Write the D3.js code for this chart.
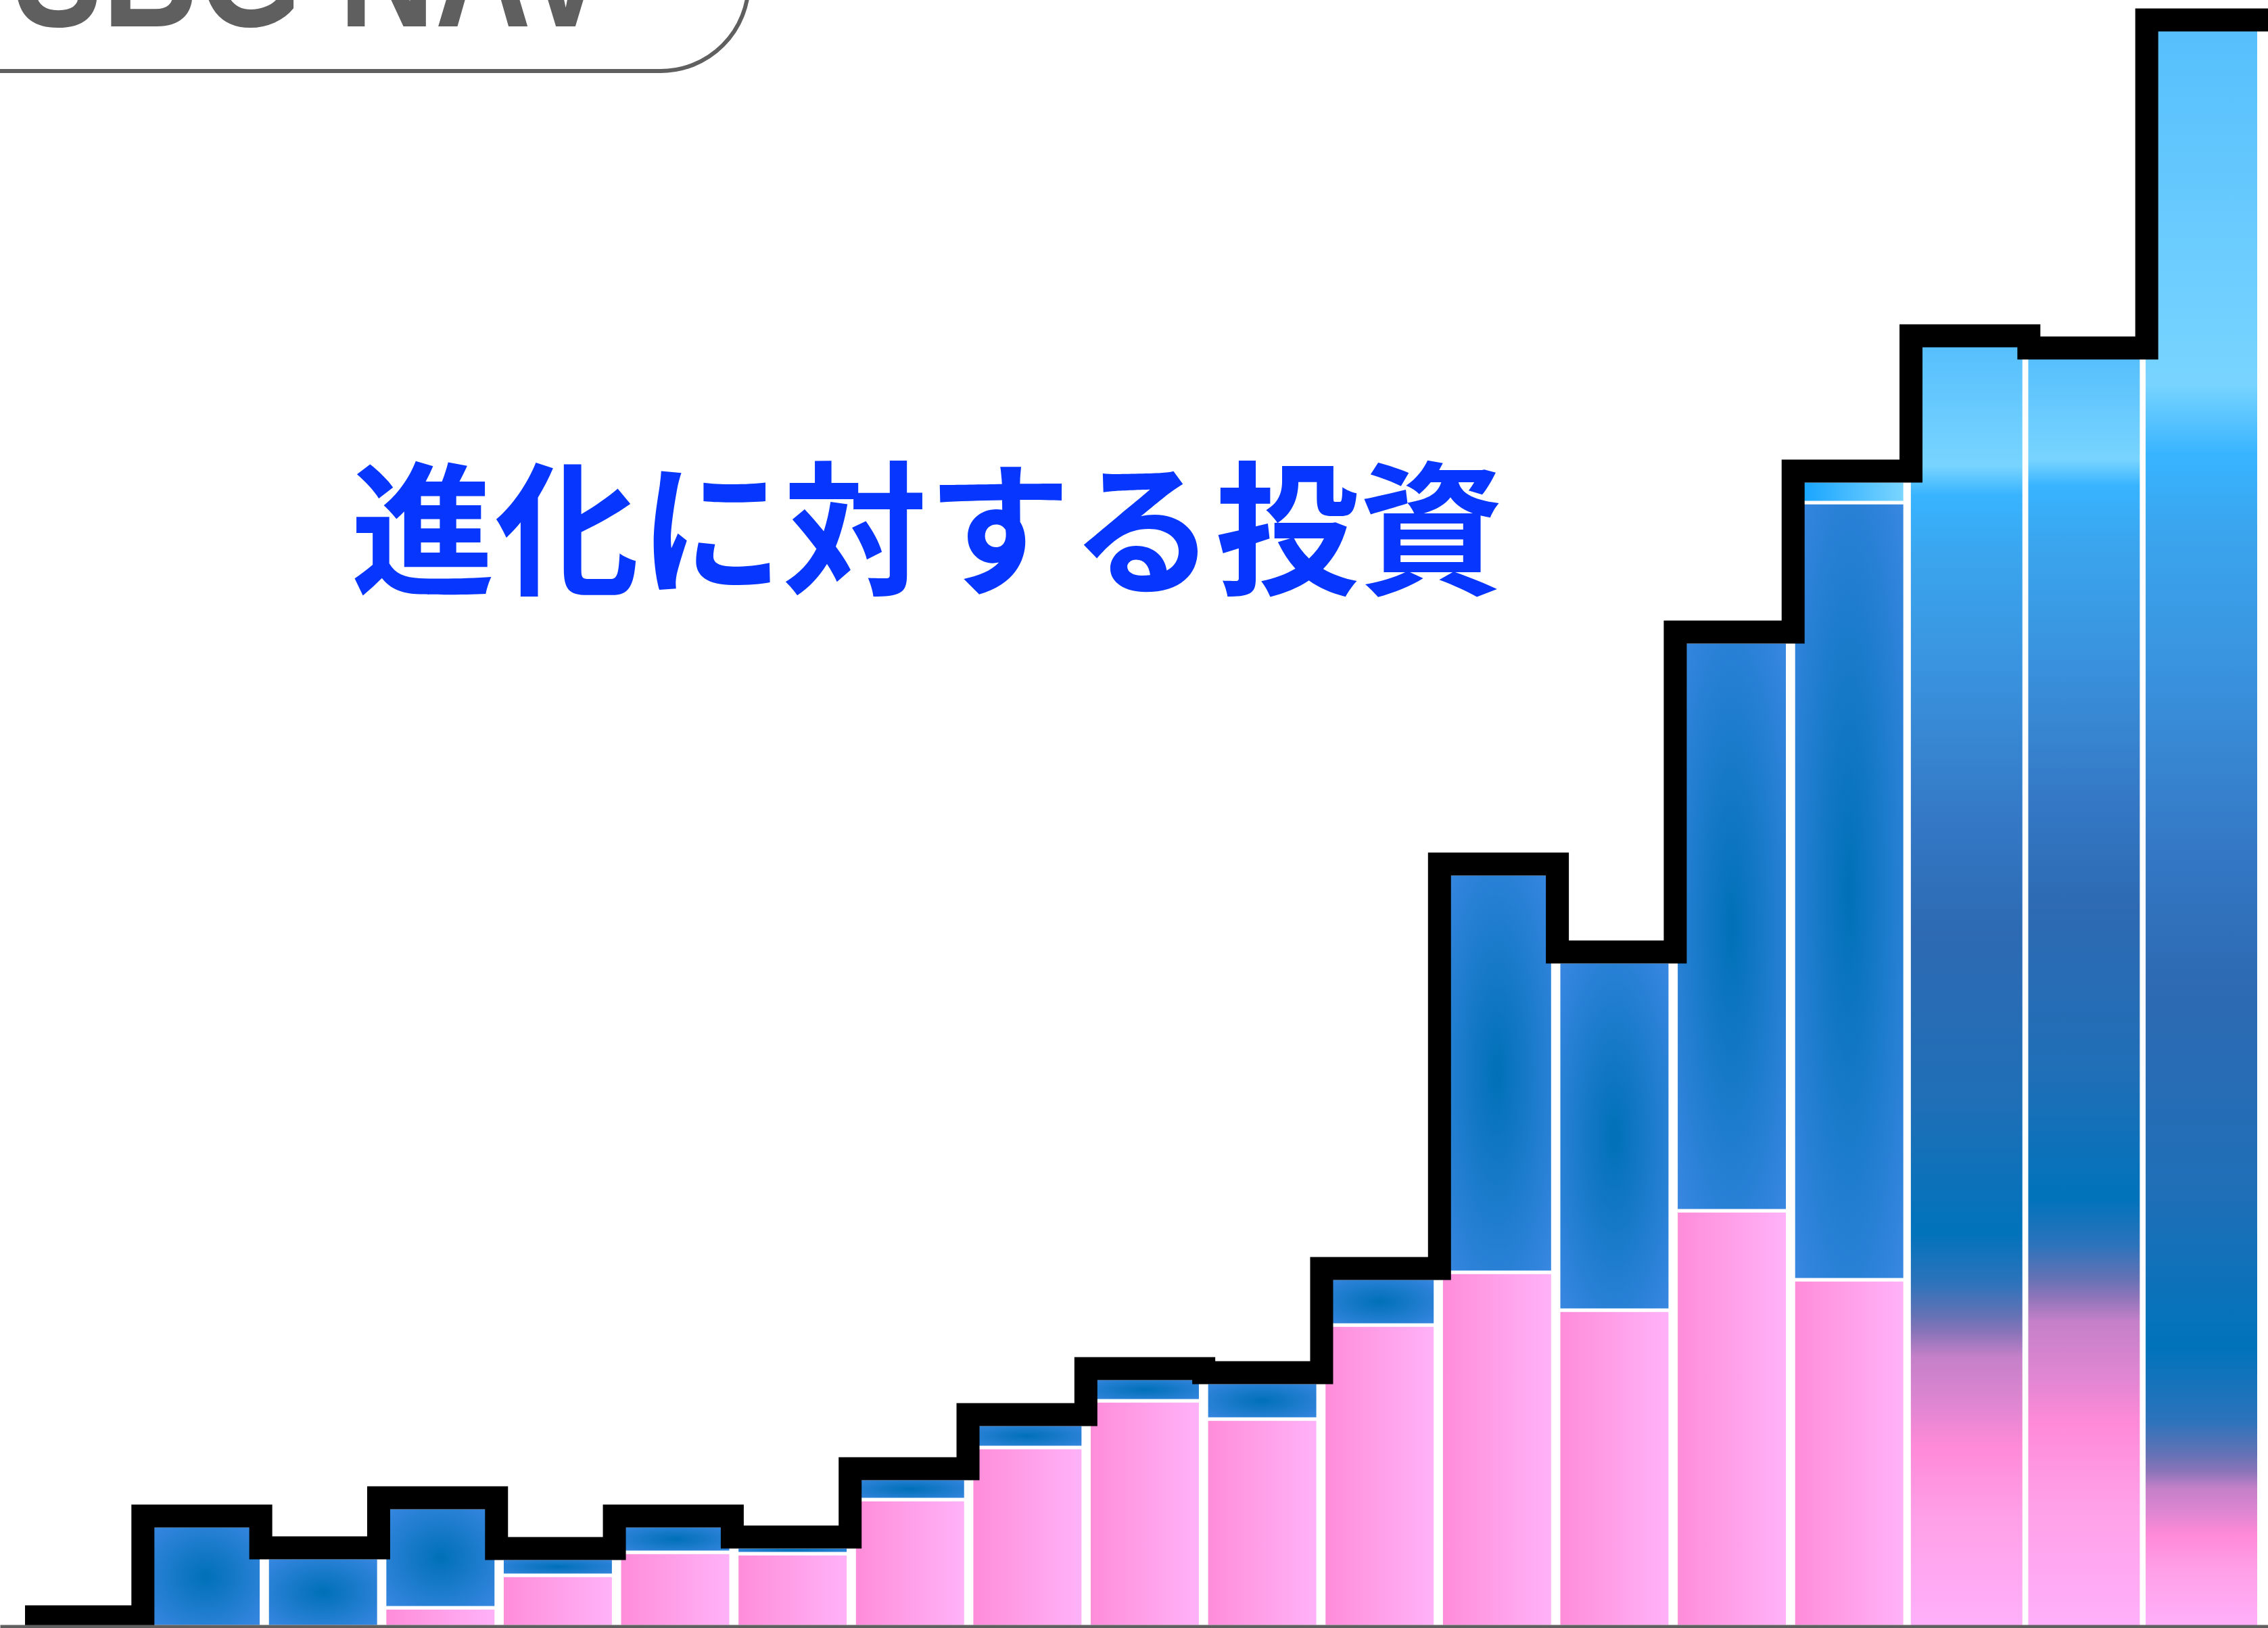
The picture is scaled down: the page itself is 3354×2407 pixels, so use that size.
<!DOCTYPE html>
<html lang="ja">
<head>
<meta charset="utf-8">
<title>SBG NAV</title>
<script src="https://cdn.jsdelivr.net/npm/d3@7"></script>
<style>
  html, body { margin: 0; padding: 0; background: #ffffff; }
  svg { display: block; }
</style>
</head>
<body>
<svg id="chart"></svg>
<script>
// Reporting periods; the first one carries no column and only anchors the step line.
const periods = ["P0", "P1", "P2", "P3", "P4", "P5", "P6", "P7", "P8", "P9",
                 "P10", "P11", "P12", "P13", "P14", "P15", "P16", "P17", "P18"];

// Stacked components per period (trillion yen).
const pinkSeries = [0, 0, 0, 0.28, 0.76, 1.10, 1.08, 1.88, 2.65, 3.34,
                    3.07, 4.46, 5.24, 4.68, 6.15, 5.13, 4.20, 4.75, 2.15];
const blueSeries = [0, 1.49, 1.02, 1.48, 0.25, 0.39, 0.10, 0.31, 0.34, 0.33,
                    0.54, 0.69, 5.89, 5.15, 8.41, 11.49, 12.65, 12.24, 15.30];
const skySeries  = [0, 0, 0, 0, 0, 0, 0, 0, 0, 0,
                    0, 0, 0, 0, 0, 0.32, 2.09, 1.77, 6.16];

// Periods whose components are shown as one blended column.
const blendedPeriods = ["P16", "P17", "P18"];

const badgeText = "SBG NAV";
const titleText = "進化に対する投資";

// ---------------------------------------------------------------------------
const W = 3354, H = 2407;
const LINE_W = 34;      // step line thickness
const GAP = 5;          // white separation around stacked blocks

const rows = periods.map((p, i) => ({
  period: p, pink: pinkSeries[i], blue: blueSeries[i], sky: skySeries[i]
}));
const totals = rows.map(r => r.pink + r.blue + r.sky);

const svg = d3.select("#chart").attr("width", W).attr("height", H)
  .attr("viewBox", `0 0 ${W} ${H}`);

const x = d3.scaleBand().domain(periods).range([48, 3338])
  .paddingInner(0.05).paddingOuter(0);
const xStep = d3.scaleLinear().domain([0, periods.length]).range([37, 3349]);
const y = d3.scaleLinear().domain([0, 24]).range([2405, 5]);

const defs = svg.append("defs");

// Blue block: soft radial shading, dark in the centre.
const blueGrad = defs.append("radialGradient").attr("id", "blueFill")
  .attr("cx", 0.5).attr("cy", 0.5).attr("r", 0.72);
blueGrad.append("stop").attr("offset", 0).attr("stop-color", "#0070b8");
blueGrad.append("stop").attr("offset", 1).attr("stop-color", "#3b88e3");

// Pink block: left-to-right sweep.
const pinkGrad = defs.append("linearGradient").attr("id", "pinkFill")
  .attr("x1", 0).attr("x2", 1).attr("y1", 0).attr("y2", 0);
pinkGrad.append("stop").attr("offset", 0).attr("stop-color", "#ff8cd9");
pinkGrad.append("stop").attr("offset", 1).attr("stop-color", "#ffb3f9");

// Sky block: left-to-right sweep.
const skyGrad = defs.append("linearGradient").attr("id", "skyFill")
  .attr("x1", 0).attr("x2", 1).attr("y1", 0).attr("y2", 0);
skyGrad.append("stop").attr("offset", 0).attr("stop-color", "#0fa0ff");
skyGrad.append("stop").attr("offset", 1).attr("stop-color", "#7cd6ff");

const fills = { pink: "url(#pinkFill)", blue: "url(#blueFill)", sky: "url(#skyFill)" };

// Blended columns: a vertical gradient whose stops follow the component boundaries.
function blendStops(r) {
  const yTop = y(r.pink + r.blue + r.sky);
  const ySky = y(r.pink + r.blue);
  const yPink = y(r.pink);
  const yBase = y(0);
  const S = ySky - yTop, B = yPink - ySky, P = yBase - yPink;
  const list = [
    [yTop, "#56bffc"],
    [yTop + 0.85 * S, "#78d4ff"],
    [ySky + 12, "#38b4ff"],
    [ySky + 0.08 * B, "#3aa5ee"],
    [ySky + 0.20 * B, "#3a95e0"],
    [ySky + 0.39 * B, "#3478c5"],
    [ySky + 0.52 * B, "#2d6ab3"],
    [ySky + 0.72 * B, "#1f6fb7"],
    [ySky + 0.87 * B, "#0073bb"],
    [yPink - 90, "#2b73bb"],
    [yPink - 40, "#6472b5"],
    [yPink - 15, "#8a74b9"],
    [yPink + 0.05 * P, "#c480c8"],
    [yPink + 0.22 * P, "#e086d2"],
    [yPink + 0.37 * P, "#ff8ad8"],
    [yPink + 0.62 * P, "#ffa0e8"],
    [yBase, "#ffb0fa"]
  ];
  return { yTop, yBase, list };
}

rows.filter(r => blendedPeriods.includes(r.period)).forEach(r => {
  const s = blendStops(r);
  const g = defs.append("linearGradient").attr("id", "blend-" + r.period)
    .attr("gradientUnits", "userSpaceOnUse")
    .attr("x1", 0).attr("x2", 0).attr("y1", s.yTop).attr("y2", s.yBase);
  s.list.forEach(([yy, c]) => {
    g.append("stop")
      .attr("offset", Math.max(0, Math.min(1, (yy - s.yTop) / (s.yBase - s.yTop))))
      .attr("stop-color", c);
  });
});

// ---------------------------------------------------------------------------
// Badge in the top-left corner.
const badge = svg.append("g");
badge.append("rect")
  .attr("x", -200).attr("y", -400).attr("width", 1307).attr("height", 505)
  .attr("rx", 130).attr("ry", 130)
  .attr("fill", "#ffffff").attr("stroke", "#5f5f5f").attr("stroke-width", 6);
badge.append("text")
  .attr("transform", "translate(20,39) scale(0.82,1)")
  .attr("font-family", "'Liberation Sans', Arial, sans-serif")
  .attr("font-weight", 700).attr("font-size", 240)
  .attr("fill", "#5f5f5f")
  .text(badgeText);

// Stacked columns.
const keys = ["pink", "blue", "sky"];
const stacked = d3.stack().keys(keys)(rows);
const barLayer = svg.append("g");

stacked.forEach(layer => {
  barLayer.append("g").selectAll("rect")
    .data(layer.filter(d => !blendedPeriods.includes(d.data.period) && d[1] - d[0] > 0))
    .join("rect")
      .attr("x", d => x(d.data.period))
      .attr("width", x.bandwidth())
      .attr("y", d => y(d[1]))
      .attr("height", d => y(d[0]) - y(d[1]))
      .attr("fill", fills[layer.key])
      .attr("stroke", "#ffffff")
      .attr("stroke-width", GAP);
});

barLayer.append("g").selectAll("rect")
  .data(rows.filter(r => blendedPeriods.includes(r.period)))
  .join("rect")
    .attr("x", r => x(r.period))
    .attr("width", x.bandwidth())
    .attr("y", r => y(r.pink + r.blue + r.sky))
    .attr("height", r => y(0) - y(r.pink + r.blue + r.sky))
    .attr("fill", r => `url(#blend-${r.period})`);

// Step line riding on the column tops.
const lift = LINE_W / 2 - GAP / 2;
const stepPts = totals.map((t, i) => [xStep(i), y(t) - lift]);
stepPts.push([xStep(periods.length + 0.2), y(totals[totals.length - 1]) - lift]);

svg.append("path")
  .attr("d", d3.line().curve(d3.curveStepAfter)(stepPts))
  .attr("fill", "none")
  .attr("stroke", "#000000")
  .attr("stroke-width", LINE_W)
  .attr("stroke-linejoin", "miter")
  .attr("stroke-linecap", "butt");

// Baseline.
const axis = svg.append("g")
  .attr("transform", `translate(0,${y(0) - 0.5})`)
  .call(d3.axisBottom(d3.scaleLinear().domain([0, 1]).range([0, W]))
    .tickValues([]).tickSizeOuter(0));
axis.select(".domain").attr("stroke", "#5f5f5f").attr("stroke-width", 5);

// Headline.
svg.append("text")
  .attr("x", 1371).attr("y", 862)
  .attr("text-anchor", "middle")
  .attr("font-family", "'Noto Sans CJK JP', 'Noto Sans CJK SC', sans-serif")
  .attr("font-weight", 700).attr("font-size", 213)
  .attr("fill", "#0736ff")
  .text(titleText);
</script>
</body>
</html>
